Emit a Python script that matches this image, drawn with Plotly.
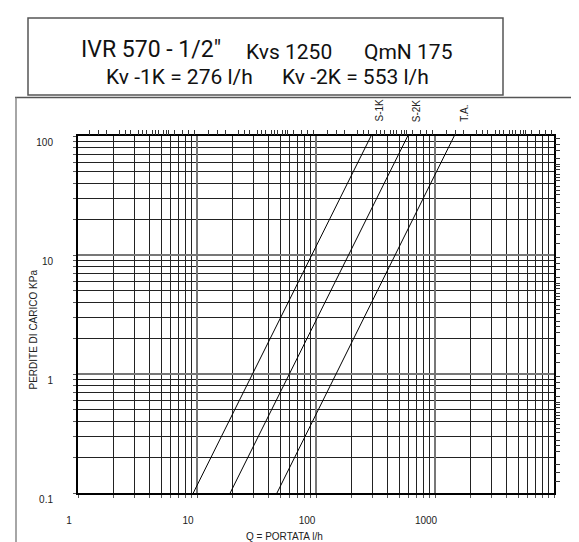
import math
import plotly.graph_objects as go

# ---- data ----
curve_names = ["S-1K", "S-2K", "T.A."]
curve_q = [[9.3, 290], [19.0, 590], [47.0, 1450]]      # Q = PORTATA l/h
curve_dp = [[0.1, 100], [0.1, 100], [0.1, 100]]       # PERDITE DI CARICO kPa

x_tick_vals = [1, 10, 100, 1000, 10000]
x_tick_text = ["1", "10", "100", "1000", ""]
y_tick_vals = [0.1, 1, 10, 100]
y_tick_text = ["0.1", "1", "10", "100"]
grid_mult = [2, 3, 4, 5, 6, 7, 8, 9]
fine_mult = [1.25, 1.5, 1.75, 2.25, 2.5, 2.75, 3.25, 3.5, 3.75, 4.25, 4.5, 4.75,
             5.25, 5.5, 5.75, 6.5, 7.5, 8.5, 9.5]

W, H = 579, 542
L, R, T, B = 70, 33, 128, 57
PW, PH = W - L - R, H - T - B


def px(x):
    return (x - L) / PW


def py(y):
    return (H - B - y) / PH


x_dec = [1, 10, 100, 1000]
y_dec = [0.1, 1, 10]
x_minor = [d * m for d in x_dec for m in grid_mult]
y_minor = [d * m for d in y_dec for m in grid_mult]
x_fine = [d * m for d in x_dec for m in fine_mult]
y_fine = [d * m for d in y_dec for m in fine_mult]

fig = go.Figure()
for name, q, dp in zip(curve_names, curve_q, curve_dp):
    fig.add_trace(go.Scatter(x=q, y=dp, mode="lines", name=name,
                             line=dict(color="black", width=1), showlegend=False,
                             hoverinfo="skip"))
# invisible helpers so the overlay axes (fine ticks top/right) are drawn
fig.add_trace(go.Scatter(x=[1], y=[1], xaxis="x2", yaxis="y", mode="markers",
                         marker=dict(opacity=0), showlegend=False, hoverinfo="skip"))
fig.add_trace(go.Scatter(x=[1], y=[1], xaxis="x", yaxis="y2", mode="markers",
                         marker=dict(opacity=0), showlegend=False, hoverinfo="skip"))

tickfont = dict(family="Liberation Sans, Arial, sans-serif", size=10, color="#222")

fig.update_layout(
    width=W, height=H,
    margin=dict(l=L, r=R, t=T, b=B, pad=0),
    paper_bgcolor="white", plot_bgcolor="white",
    xaxis=dict(type="log", range=[0, 4], tickmode="array", tickvals=x_tick_vals,
               ticktext=x_tick_text, showgrid=True, gridcolor="#777", gridwidth=2,
               ticks="outside", ticklen=3, tickcolor="#555",
               showline=True, linecolor="black", linewidth=2, mirror=True,
               tickfont=tickfont, ticklabelshift=-9, ticklabelstandoff=14,
               minor=dict(tickmode="array", tickvals=x_minor, showgrid=True,
                          gridcolor="#222", gridwidth=1, ticks="outside",
                          ticklen=3, tickcolor="#555"),
               zeroline=False),
    yaxis=dict(type="log", range=[-1, 2], tickmode="array", tickvals=y_tick_vals,
               ticktext=y_tick_text, showgrid=True, gridcolor="#777", gridwidth=2,
               ticks="outside", ticklen=3, tickcolor="#555",
               showline=True, linecolor="black", linewidth=2, mirror=True,
               tickfont=tickfont, ticklabelshift=6, ticklabelstandoff=18,
               minor=dict(tickmode="array", tickvals=y_minor, showgrid=True,
                          gridcolor="#222", gridwidth=1, ticks="outside",
                          ticklen=3, tickcolor="#555"),
               zeroline=False),
    xaxis2=dict(type="log", range=[0, 4], overlaying="x", side="top",
                tickmode="array", tickvals=x_fine, ticks="outside", ticklen=5,
                tickcolor="#333", showticklabels=False, showgrid=False,
                showline=False, zeroline=False),
    yaxis2=dict(type="log", range=[-1, 2], overlaying="y", side="right",
                tickmode="array", tickvals=y_fine, ticks="outside", ticklen=5,
                tickcolor="#333", showticklabels=False, showgrid=False,
                showline=False, zeroline=False),
)

shift = [8, 9, 10]
for name, q, s in zip(curve_names, curve_q, shift):
    fig.add_annotation(x=math.log10(q[1]), xref="x", y=1, yref="paper",
                       text=name, textangle=-90, showarrow=False,
                       xshift=s, yshift=12, yanchor="bottom",
                       font=dict(family="Liberation Sans, Arial, sans-serif", size=10,
                                 color="#222"))

title_font = "Roboto, Noto Sans, sans-serif"
titles = [
    ("IVR 570 - 1/2\u2033", 142.5, 42, 23),
    ("Kvs 1250", 280.5, 44, 21),
    ("QmN 175", 399.5, 44, 21),
    ("Kv -1K = 276 l/h", 171.5, 69, 21),
    ("Kv -2K = 553 l/h", 347.5, 69, 21),
]
for txt, cx, cy, sz in titles:
    fig.add_annotation(x=px(cx), y=py(cy), xref="paper", yref="paper", text=txt,
                       showarrow=False, xanchor="center", yanchor="middle",
                       font=dict(family=title_font, size=sz, color="#111"))

fig.add_annotation(x=px(17), y=py(322), xref="paper", yref="paper",
                   text="PERDITE DI CARICO KPa", textangle=-90, showarrow=False,
                   font=dict(family="Liberation Sans, Arial, sans-serif", size=10,
                             color="#222"))
fig.add_annotation(x=px(276), y=py(536), xref="paper", yref="paper",
                   text="Q = PORTATA l/h", showarrow=False,
                   font=dict(family="Liberation Sans, Arial, sans-serif", size=10,
                             color="#222"))

# frame lines and title box
fig.add_shape(type="rect", xref="paper", yref="paper", x0=px(20), x1=px(495),
              y0=py(10), y1=py(87), line=dict(color="#555", width=1.5))
fig.add_shape(type="line", xref="paper", yref="paper", x0=px(7), x1=px(579),
              y0=py(89.5), y1=py(89.5), line=dict(color="#555", width=1.5))
fig.add_shape(type="line", xref="paper", yref="paper", x0=px(8), x1=px(8),
              y0=py(89.5), y1=py(542), line=dict(color="#888", width=1.5))

fig.write_html("out.html")
